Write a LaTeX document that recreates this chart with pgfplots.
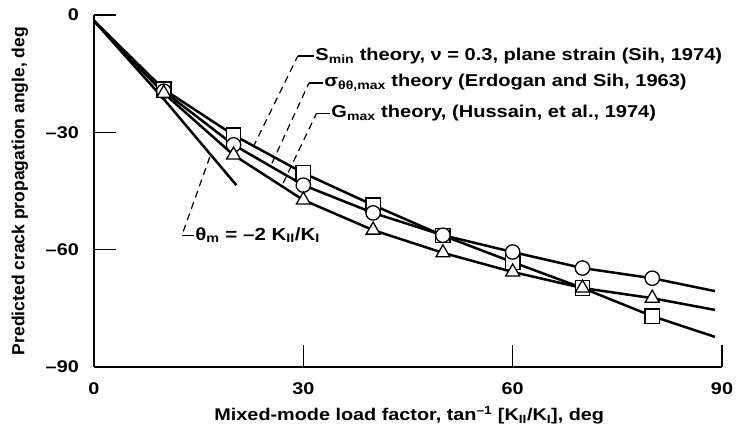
\documentclass[border=0pt]{standalone}
\usepackage{fontspec}
\setmainfont{Liberation Sans}[FakeStretch=1.17]
\newfontfamily\ylabfont{Liberation Sans}
\usepackage{pgfplots}
\pgfplotsset{compat=1.18}
\pgfplotstableread{
x y
0 -1.5
10 -19.0
20 -30.7
30 -40.4
40 -48.6
50 -56.4
60 -63.2
70 -69.8
80 -77.0
89 -82.3
}\smin
\pgfplotstableread{
x y
0 -1.5
10 -19.5
20 -33.2
30 -43.5
40 -50.6
50 -56.3
60 -60.6
70 -64.7
80 -67.3
89 -70.6
}\mts
\pgfplotstableread{
x y
0 -1.5
10 -20.0
20 -35.8
30 -47.3
40 -55.0
50 -60.8
60 -65.7
70 -69.8
80 -72.4
89 -75.4
}\gmax
\pgfplotstableread{
x y
0 -1.5
10 -21.5
20.4 -43.5
}\thetam
\begin{document}
\fontsize{17}{20}\selectfont\bfseries
\begin{tikzpicture}[font=\fontsize{17}{20}\selectfont\bfseries]
\begin{axis}[
  scale only axis, width=628bp, height=352bp,
  xmin=0, xmax=90, ymin=-90, ymax=0,
  axis lines=left,
  axis line style={-, line width=1.5bp, black},
  xtick={0,30,60,90}, xticklabels={0,30,60,90},
  ytick={-90,-60,-30,0}, yticklabels={--90,--60,--30,0},
  /pgf/number format/assume math mode=true,
  tick align=inside,
  major tick length=22bp,
  tick style={line width=1.3bp, black},
  xticklabel style={inner sep=0pt, anchor=north, yshift=-15bp},
  yticklabel style={inner sep=0pt, anchor=east, xshift=-15bp},
  xlabel={Mixed-mode load factor, tan\textsuperscript{--1} [K\textsubscript{II}/K\textsubscript{I}], deg},
  ylabel={\ylabfont\fontsize{17.6}{20}\selectfont\bfseries Predicted crack propagation angle, deg},
  xlabel style={at={(axis description cs:0.502,-0.137)}, anchor=center, inner sep=0pt},
  ylabel style={at={(axis description cs:-0.118,0.5)}, anchor=center, inner sep=0pt},
  clip=false,
]
\addplot[black, line width=2.5bp, no marks] table {\thetam};
\addplot[black, line width=2.5bp, no marks] table {\smin};
\addplot[black, line width=2.5bp, no marks] table {\mts};
\addplot[black, line width=2.5bp, no marks] table {\gmax};
\addplot[only marks, mark=square*, mark size=7.2bp, mark options={fill=white, draw=black, line width=1.3bp}] table {
x y
10 -19.0
20 -30.7
30 -40.4
40 -48.6
50 -56.4
60 -63.2
70 -69.8
80 -77.0
};
\addplot[only marks, mark=*, mark size=7.2bp, mark options={fill=white, draw=black, line width=1.3bp}] table {
x y
10 -19.5
20 -33.2
30 -43.5
40 -50.6
50 -56.3
60 -60.6
70 -64.7
80 -67.3
};
\addplot[only marks, mark=triangle*, mark size=8bp, mark options={fill=white, draw=black, line width=1.3bp}] table {
x y
10 -20.0
20 -35.8
30 -47.3
40 -55.0
50 -60.8
60 -65.7
70 -69.8
80 -72.4
};
\draw[line width=1.2bp, dash pattern=on 7bp off 5bp] (axis cs:22.8,-33.8) -- (axis cs:29.2,-10.5);
\draw[line width=1.2bp] (axis cs:29.2,-10.5) -- (axis cs:31.5,-10.5)
  node[anchor=west, inner sep=1bp, font=\fontsize{17.2}{21}\selectfont\bfseries] {S\textsubscript{min} theory, ν = 0.3, plane strain (Sih, 1974)};
\draw[line width=1.2bp, dash pattern=on 7bp off 5bp] (axis cs:25.5,-37.9) -- (axis cs:30.8,-17.4);
\draw[line width=1.2bp] (axis cs:30.8,-17.4) -- (axis cs:32.8,-17.4)
  node[anchor=west, inner sep=1bp, font=\fontsize{17.2}{21}\selectfont\bfseries] {σ\textsubscript{θθ,max} theory (Erdogan and Sih, 1963)};
\draw[line width=1.2bp, dash pattern=on 7bp off 5bp] (axis cs:27.1,-43.0) -- (axis cs:31.9,-25.1);
\draw[line width=1.2bp] (axis cs:31.9,-25.1) -- (axis cs:33.8,-25.1)
  node[anchor=west, inner sep=1bp, font=\fontsize{17.2}{21}\selectfont\bfseries] {G\textsubscript{max} theory, (Hussain, et al., 1974)};
\draw[line width=1.2bp, dash pattern=on 7bp off 5bp] (axis cs:16.6,-36.3) -- (axis cs:12.6,-56.3);
\draw[line width=1.2bp] (axis cs:12.6,-56.3) -- (axis cs:14.3,-56.3)
  node[anchor=west, inner sep=1bp, font=\fontsize{17.6}{21}\selectfont\bfseries] {θ\textsubscript{m} = --2 K\textsubscript{II}/K\textsubscript{I}};
\end{axis}
\pgfresetboundingbox
\path[use as bounding box] (-94bp,-64bp) rectangle (645bp,367bp);
\end{tikzpicture}
\end{document}
